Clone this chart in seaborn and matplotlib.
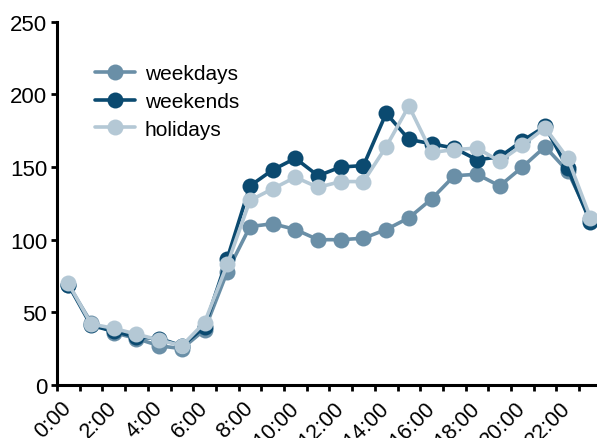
import numpy as np
import pandas as pd
import matplotlib
matplotlib.use("Agg")
import matplotlib.pyplot as plt
import seaborn as sns

sns.set_style("white")
plt.rcParams["font.family"] = ["Liberation Sans Narrow", "Liberation Sans", "DejaVu Sans"]
plt.rcParams["text.color"] = "black"
plt.rcParams["xtick.color"] = "black"
plt.rcParams["ytick.color"] = "black"

# Data (hourly values)
hours = [f"{h}:00" for h in range(24)]
weekdays = [69, 43, 36, 32, 27, 25, 38, 78, 109, 111, 107, 100, 100, 101, 107, 115,
            128, 144, 145, 137, 150, 164, 147, 114]
weekends = [69, 41, 37, 33, 32, 27, 40, 87, 137, 148, 156, 144, 150, 151, 187, 169,
            166, 163, 155, 157, 168, 178, 149, 112]
holidays = [70, 42, 39, 35, 31, 27, 43, 83, 127, 135, 143, 136, 140, 140, 164, 192,
            160, 162, 163, 154, 165, 177, 156, 115]
series_names = ["weekdays", "weekends", "holidays"]
colors = ["#6a8fa7", "#0b4a70", "#b4c8d5"]
tick_labels = [f"{h}:00" for h in range(0, 24, 2)]

df = pd.DataFrame({
    "pos": np.arange(24) + 0.5,
    "weekdays": weekdays,
    "weekends": weekends,
    "holidays": holidays,
})
long_df = df.melt(id_vars="pos", var_name="series", value_name="value")

fig = plt.figure(figsize=(5.97, 4.39), dpi=100)
ax = fig.add_axes([0.0955, 0.1207, 0.9126, 0.8276])

sns.lineplot(data=long_df, x="pos", y="value", hue="series", hue_order=series_names,
             palette=colors, marker="o", markersize=11.5, linewidth=2.6,
             markeredgewidth=0, sort=False, ax=ax)

ax.set_xlim(0, 24)
ax.set_ylim(0, 250)
ax.set_yticks(range(0, 251, 50))
ax.set_xticks(range(0, 25))
ax.set_xticklabels([])
ax.set_xticks(np.arange(0, 24, 2) + 0.5, minor=True)
ax.set_xticklabels(tick_labels, minor=True, rotation=45, ha="right",
                   rotation_mode="anchor", va="center")
ax.tick_params(axis="x", which="minor", length=0, pad=14, labelsize=15.5)
ax.tick_params(axis="x", which="major", length=4, width=2, direction="out", bottom=True)
ax.tick_params(axis="y", length=4, width=2, direction="out", left=True, labelsize=16, pad=3)
ax.set_xlabel("")
ax.set_ylabel("")

for side in ["top", "right"]:
    ax.spines[side].set_visible(False)
for side in ["left", "bottom"]:
    ax.spines[side].set_linewidth(2.2)
    ax.spines[side].set_color("black")

ax.legend(title=None, loc="upper left", bbox_to_anchor=(0.035, 0.935), frameon=False,
          fontsize=15, handlelength=1.95, handletextpad=0.45, labelspacing=0.42)

fig.savefig("out.png", dpi=100)
